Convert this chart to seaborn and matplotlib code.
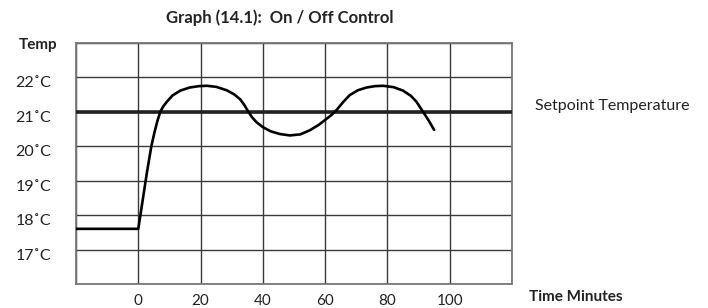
import matplotlib
matplotlib.use("Agg")
import matplotlib.pyplot as plt
import matplotlib.transforms as mtransforms
import seaborn as sns

# curve (minutes, deg C)
time_min = [-20, 0, 2.8, 4.2, 5.2, 6.2, 7.1, 8.0, 9.2, 11, 13.5, 16.5, 19.5, 22,
            25, 28.4, 30.8, 32.7, 34.0, 35.2, 36.5, 38.0, 40, 42.5, 45.5, 48.7,
            52, 55.1, 58, 60, 62, 63.7, 65.8, 67.9, 70.5, 73.3, 76, 78.6, 82,
            85, 87.5, 89.3, 91.4, 93.2, 95]
temp_c = [17.6, 17.6, 19.25, 20.0, 20.4, 20.75, 21.0, 21.15, 21.29, 21.47,
          21.61, 21.70, 21.74, 21.75, 21.72, 21.62, 21.5, 21.36, 21.2, 21.02,
          20.84, 20.69, 20.55, 20.43, 20.35, 20.31, 20.34, 20.46, 20.62, 20.76,
          20.9, 21.05, 21.28, 21.48, 21.62, 21.7, 21.74, 21.75, 21.71, 21.61,
          21.46, 21.29, 21.0, 20.75, 20.47]

setpoint = 21
x_ticks = [-20, 0, 20, 40, 60, 80, 100, 120]
x_labels = ["", "0", "20", "40", "60", "80", "100", ""]
y_ticks = [16, 17, 18, 19, 20, 21, 22, 23]
y_labels = ["", "17˚C", "18˚C", "19˚C", "20˚C", "21˚C", "22˚C", ""]

sns.set_style("white")
plt.rcParams["font.family"] = ["Lato", "DejaVu Sans"]

fig = plt.figure(figsize=(7.08, 3.08), dpi=100)
ax = fig.add_axes([76 / 708, 24 / 308, 436 / 708, 241.3 / 308])

# setpoint line
ax.axhline(setpoint, color="#222222", lw=2.6, zorder=3)
sns.lineplot(x=time_min, y=temp_c, sort=False, color="black", lw=1.9, ax=ax, zorder=4)

ax.set_xlim(-20, 120)
ax.set_ylim(16, 23)
ax.set_xticks(x_ticks)
ax.set_xticklabels(x_labels, fontsize=11, color="#222222")
ax.set_yticks(y_ticks)
ax.set_yticklabels(y_labels, fontsize=11.5, color="#222222")
ax.tick_params(length=0)
ax.tick_params(axis="x", pad=7)
ax.tick_params(axis="y", pad=18)
# y labels sit a little below their grid lines in the original
shift = mtransforms.ScaledTranslation(0, -0.045, fig.dpi_scale_trans)
for lab in ax.get_yticklabels():
    lab.set_transform(lab.get_transform() + shift)
ax.grid(True, color="#3a3a3a", lw=1.0)
for s in ax.spines.values():
    s.set_color("#777777")
    s.set_linewidth(1.3)

fig.text(280 / 708, 1 - 18 / 308, "Graph (14.1):  On / Off Control",
         ha="center", va="center", fontsize=12, fontweight="bold", color="#222222")
fig.text(38 / 708, 1 - 45 / 308, "Temp", ha="center", va="center",
         fontsize=11, fontweight="bold", color="#222222")
fig.text(576 / 708, 1 - 297 / 308, "Time Minutes", ha="center", va="center",
         fontsize=11, fontweight="bold", color="#222222")
ax.text(127.5, setpoint + 0.15, "Setpoint Temperature", ha="left", va="center",
        fontsize=11.5, color="#222222", clip_on=False)

fig.savefig("out.png", dpi=100)
